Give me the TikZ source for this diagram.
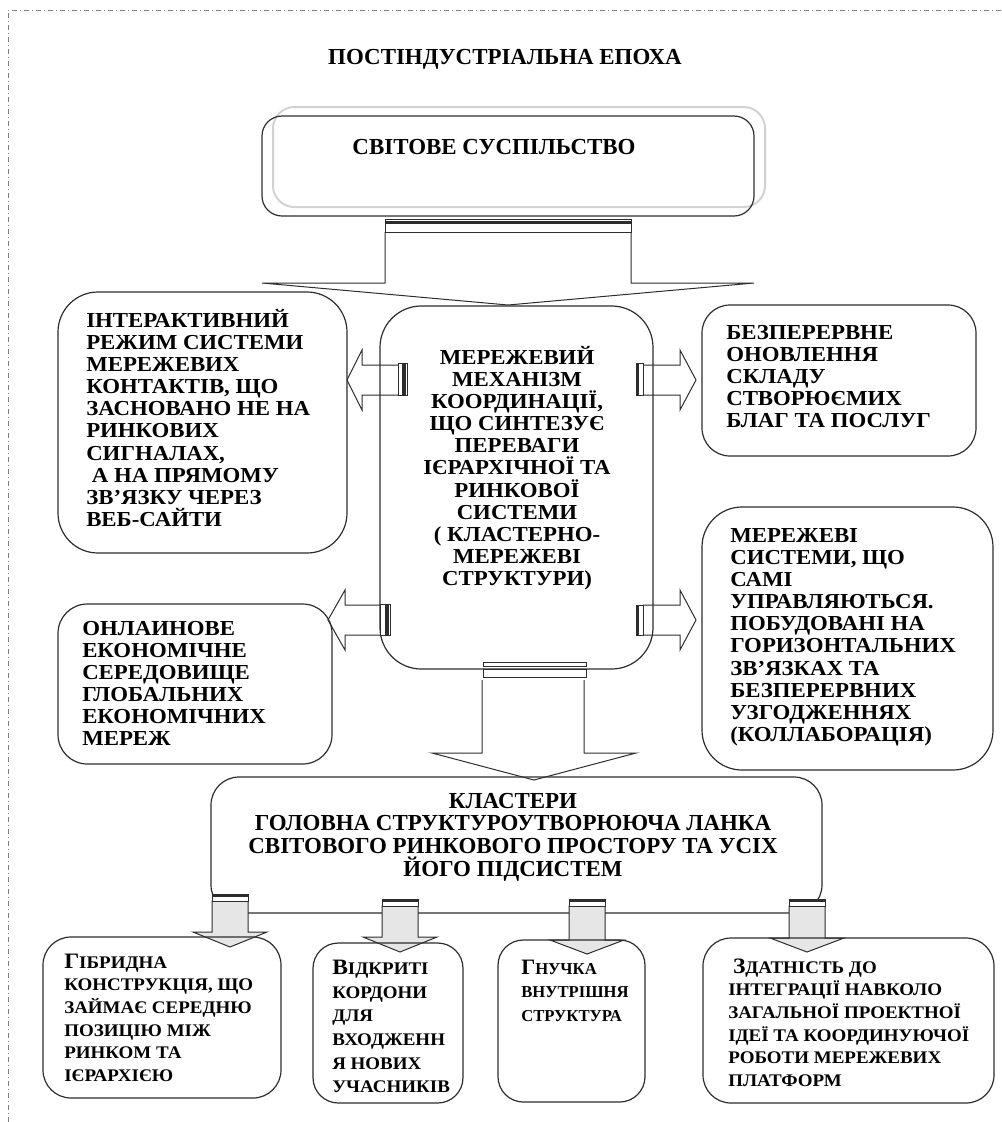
\documentclass[tikz,border=0pt]{standalone}
\usepackage{fontspec}
\setmainfont{Liberation Serif}
\newfontfamily\widefont{Liberation Serif}[FakeStretch=1.07]
\definecolor{edge}{RGB}{45,45,45}
\definecolor{arrowgray}{RGB}{230,230,230}
\tikzset{
  rbox/.style={draw=edge, line width=0.9pt, rounded corners=#1},
  rbox/.default=20pt,
  uptxt/.style={anchor=north west, align=left, inner sep=0pt, font=\widefont\bfseries\fontsize{16}{16.6}\selectfont},
  midtxt/.style={anchor=north, align=center, inner sep=0pt, font=\widefont\bfseries\fontsize{16}{16.6}\selectfont},
  lowtxt/.style={anchor=north west, align=left, inner sep=0pt, font=\widefont\bfseries\fontsize{13.3}{17}\selectfont},
  titletxt/.style={anchor=base, align=center, inner sep=0pt, font=\bfseries\fontsize{17.2}{17}\selectfont},
  blockarrow/.style={draw=edge, line width=0.75pt},
  tabbar/.style={draw=edge, line width=0.75pt, fill=white},
}
\newcommand\capone[1]{{\fontsize{16.5}{17}\selectfont #1}}
\newcommand\topstrut{\rule{0pt}{14pt}}
\newcommand\lowstrut{\rule{0pt}{13pt}}

\begin{document}
\begin{tikzpicture}[x=0.75pt,y=0.75pt,yscale=-1,xscale=1]
\useasboundingbox (0,0) rectangle (1001,1122);

%Frame
\draw[gray, line width=0.5pt, dash pattern=on 4pt off 2pt on 1pt off 2pt] (8,1122) -- (8,10) -- (1001,10);

% Text Node
\node[titletxt] (epoch) at (505,64) {ПОСТІНДУСТРІАЛЬНА ЕПОХА};

%Top box
\node[draw=gray!35, line width=1.5pt, rounded corners=16pt, minimum width=369pt, minimum height=75pt] (worldshadow) at (519,157) {};
\node[rbox=15pt, minimum width=369pt, minimum height=75pt] (world) at (508,166) {};
\node[titletxt] (world-t) at (494,154) {СВІТОВЕ СУСПІЛЬСТВО};

%Block arrow world -> network
\draw[blockarrow] (385,232) -- (385,283) -- (262,283) -- (508,305) -- (754,283) -- (631,283) -- (631,232);
\draw[tabbar] (385,219) rectangle (631,232);
\draw[edge, line width=1.6pt] (385,222.5) -- (631,222.5);

%Center box
\node[rbox=31pt, minimum width=204.75pt, minimum height=272.25pt] (network) at (516.5,487.5) {};
\node[midtxt] (network-t) at (517,345.3) {\topstrut МЕРЕЖЕВИЙ\\МЕХАНІЗМ\\КООРДИНАЦІЇ,\\ЩО СИНТЕЗУЄ\\ПЕРЕВАГИ\\ІЄРАРХІЧНОЇ ТА\\РИНКОВОЇ\\СИСТЕМИ\\( КЛАСТЕРНО-\\МЕРЕЖЕВІ\\СТРУКТУРИ)};

%Left boxes
\node[rbox=30pt, minimum width=216.75pt, minimum height=195.75pt] (interactive) at (202.5,422.5) {};
\node[uptxt] (interactive-t) at (86,308.3) {\topstrut ІНТЕРАКТИВНИЙ\\РЕЖИМ СИСТЕМИ\\МЕРЕЖЕВИХ\\КОНТАКТІВ, ЩО\\ЗАСНОВАНО НЕ НА\\РИНКОВИХ\\СИГНАЛАХ,\\\ А НА ПРЯМОМУ\\ЗВ’ЯЗКУ ЧЕРЕЗ\\ВЕБ-САЙТИ};
\node[rbox=22pt, minimum width=205.5pt, minimum height=120pt] (online) at (195,684) {};
\node[uptxt] (online-t) at (82,616.3) {\topstrut ОНЛАИНОВЕ\\ЕКОНОМІЧНЕ\\СЕРЕДОВИЩЕ\\ГЛОБАЛЬНИХ\\ЕКОНОМІЧНИХ\\МЕРЕЖ};

%Right boxes
\node[rbox=21pt, minimum width=205.5pt, minimum height=113.25pt] (renewal) at (839,380.5) {};
\node[uptxt] (renewal-t) at (726,320.3) {\topstrut БЕЗПЕРЕРВНЕ\\ОНОВЛЕННЯ\\СКЛАДУ\\СТВОРЮЄМИХ\\БЛАГ ТА ПОСЛУГ};
\node[rbox=30pt, minimum width=218.25pt, minimum height=197.25pt] (selfnet) at (847.5,638.5) {};
\node[uptxt] (selfnet-t) at (730,523.3) {\topstrut МЕРЕЖЕВІ\\СИСТЕМИ, ЩО\\САМІ\\УПРАВЛЯЮТЬСЯ.\\ПОБУДОВАНІ НА\\ГОРИЗОНТАЛЬНИХ\\ЗВ’ЯЗКАХ ТА\\БЕЗПЕРЕРВНИХ\\УЗГОДЖЕННЯХ\\(КОЛЛАБОРАЦІЯ)};

%Side arrows
\draw[blockarrow] (398,365) -- (362,365) -- (362,350) -- (347,380) -- (362,410) -- (362,395) -- (398,395);
\draw[tabbar] (398,363) rectangle (407,395);
\draw[edge, line width=3pt] (404,363) -- (404,395);
\draw[blockarrow] (380,605) -- (345,605) -- (345,590) -- (328,620) -- (345,650) -- (345,635) -- (380,635);
\draw[tabbar] (380,604) rectangle (390,635);
\draw[edge, line width=3pt] (387,604) -- (387,635);
\draw[blockarrow] (643,365) -- (680,365) -- (680,350) -- (696,380) -- (680,410) -- (680,395) -- (643,395);
\draw[tabbar] (636,363) rectangle (643,395);
\draw[edge, line width=1.2pt] (638,363) -- (638,395);
\draw[blockarrow] (643,605) -- (680,605) -- (680,590) -- (696,620) -- (680,650) -- (680,635) -- (643,635);
\draw[tabbar] (636,605) rectangle (643,635);
\draw[edge, line width=1.2pt] (638,605) -- (638,635);

%Block arrow network -> clusters
\draw[blockarrow] (482,680) -- (482,753) -- (432,753) -- (534,780) -- (636,753) -- (584,753) -- (584,680);
\draw[tabbar] (483,662) rectangle (586,666);
\draw[tabbar] (483,669) rectangle (586,677);

%Cluster box
\node[rbox=21pt, minimum width=458.25pt, minimum height=102pt] (clusters) at (516.5,845) {};
\node[titletxt, anchor=north] (clusters-t) at (513,789.3) {\topstrut КЛАСТЕРИ\\ГОЛОВНА СТРУКТУРОУТВОРЮЮЧА ЛАНКА\\СВІТОВОГО РИНКОВОГО ПРОСТОРУ ТА УСІХ\\ЙОГО ПІДСИСТЕМ};

%Bottom arrows
\draw[blockarrow, fill=arrowgray] (212,901) -- (212,932) -- (193,932) -- (230,947) -- (267,932) -- (248,932) -- (248,901) -- cycle;
\draw[tabbar] (212,894) rectangle (248,901);
\draw[edge, line width=2pt] (212,895.5) -- (248,895.5);
\draw[blockarrow, fill=arrowgray] (382,906) -- (382,937) -- (363,937) -- (400,952) -- (437,937) -- (418,937) -- (418,906) -- cycle;
\draw[tabbar] (382,899) rectangle (418,906);
\draw[edge, line width=2pt] (382,900.5) -- (418,900.5);
\draw[blockarrow, fill=arrowgray] (569,906) -- (569,940) -- (550,940) -- (587,954) -- (624,940) -- (605,940) -- (605,906) -- cycle;
\draw[tabbar] (569,899) rectangle (605,906);
\draw[edge, line width=2pt] (569,900.5) -- (605,900.5);
\draw[blockarrow, fill=arrowgray] (789,906) -- (789,938) -- (770,938) -- (807,952) -- (844,938) -- (825,938) -- (825,906) -- cycle;
\draw[tabbar] (789,899) rectangle (825,906);
\draw[edge, line width=2pt] (789,900.5) -- (825,900.5);

%Bottom boxes
\node[rbox=21pt, minimum width=178.5pt, minimum height=120.75pt] (hybrid) at (162,1017.5) {};
\node[lowtxt] (hybrid-t) at (64,950.7) {\lowstrut\capone{Г}ІБРИДНА\\КОНСТРУКЦІЯ, ЩО\\ЗАЙМАЄ СЕРЕДНЮ\\ПОЗИЦІЮ МІЖ\\РИНКОМ ТА\\ІЄРАРХІЄЮ};
\node[rbox=19pt, minimum width=112.5pt, minimum height=120pt] (borders) at (388,1023) {};
\node[lowtxt, font=\widefont\bfseries\fontsize{13.3}{17.8}\selectfont] (borders-t) at (332,956.7) {\lowstrut\capone{В}ІДКРИТІ\\КОРДОНИ\\ДЛЯ\\ВХОДЖЕНН\\Я НОВИХ\\УЧАСНИКІВ};
\node[rbox=19pt, minimum width=110.25pt, minimum height=121.5pt] (flexible) at (571.5,1021) {};
\node[lowtxt, font=\bfseries\fontsize{12.5}{17.6}\selectfont] (flexible-t) at (521,956.7) {\lowstrut\capone{Г}НУЧКА\\ВНУТРІШНЯ\\СТРУКТУРА};
\node[rbox=21pt, minimum width=218.25pt, minimum height=123.75pt] (integration) at (848.5,1020.5) {};
\node[lowtxt] (integration-t) at (728,955.7) {\lowstrut\ \capone{З}ДАТНІСТЬ ДО\\ІНТЕГРАЦІЇ НАВКОЛО\\ЗАГАЛЬНОЇ ПРОЕКТНОЇ\\ІДЕЇ ТА КООРДИНУЮЧОЇ\\РОБОТИ МЕРЕЖЕВИХ\\ПЛАТФОРМ};

\end{tikzpicture}
\end{document}
